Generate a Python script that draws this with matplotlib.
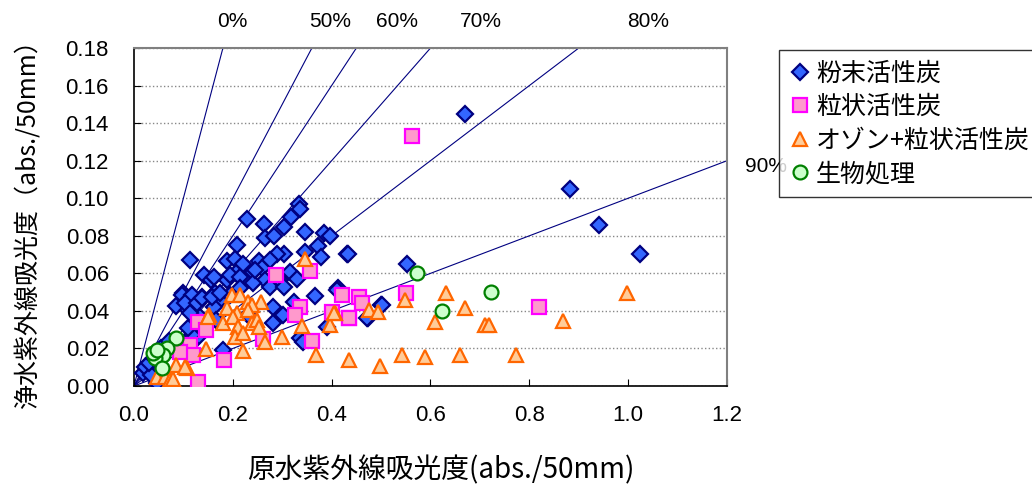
import numpy as np
import matplotlib
matplotlib.use("Agg")
import matplotlib.pyplot as plt

plt.rcParams['font.family'] = ['Noto Sans CJK JP', 'DejaVu Sans']

# 粉末活性炭
pac_x = [0.670, 0.883, 0.940, 1.024, 0.432, 0.553, 0.499, 0.473, 0.413, 0.228, 0.263, 0.304,
         0.318, 0.333, 0.335, 0.346, 0.385, 0.265, 0.283, 0.209, 0.372, 0.378, 0.347, 0.304,
         0.289, 0.434, 0.113, 0.188, 0.204, 0.221, 0.252, 0.275, 0.259, 0.238, 0.142, 0.155,
         0.188, 0.206, 0.225, 0.316, 0.329, 0.265, 0.296, 0.241, 0.275, 0.304, 0.100, 0.117,
         0.137, 0.164, 0.174, 0.194, 0.086, 0.110, 0.134, 0.161, 0.167, 0.366, 0.410, 0.282,
         0.302, 0.282, 0.231, 0.336, 0.342, 0.390, 0.471, 0.501, 0.120, 0.127, 0.181, 0.113,
         0.026, 0.046, 0.018, 0.161, 0.194, 0.215, 0.097, 0.117, 0.103, 0.127, 0.137, 0.157,
         0.174, 0.113, 0.117, 0.110, 0.022, 0.035, 0.397, 0.245, 0.215, 0.323, 0.030, 0.040,
         0.055, 0.070]
pac_y = [0.1448, 0.1049, 0.0857, 0.0701, 0.0701, 0.0651, 0.0431, 0.0360, 0.0522, 0.0888, 0.0863, 0.0848,
         0.0898, 0.0969, 0.0941, 0.0818, 0.0813, 0.0786, 0.0799, 0.0751, 0.0746, 0.0689, 0.0715, 0.0703,
         0.0703, 0.0703, 0.0671, 0.0666, 0.0674, 0.0650, 0.0664, 0.0671, 0.0626, 0.0600, 0.0591, 0.0564,
         0.0564, 0.0600, 0.0564, 0.0608, 0.0568, 0.0564, 0.0564, 0.0547, 0.0529, 0.0529, 0.0494, 0.0476,
         0.0473, 0.0494, 0.0458, 0.0485, 0.0426, 0.0405, 0.0369, 0.0422, 0.0351, 0.0479, 0.0511, 0.0422,
         0.0378, 0.0334, 0.0378, 0.0254, 0.0236, 0.0316, 0.0360, 0.0431, 0.0280, 0.0254, 0.0192, 0.0227,
         0.0103, 0.0014, 0.0069, 0.0582, 0.0590, 0.0580, 0.0485, 0.0485, 0.0440, 0.0440, 0.0467, 0.0476,
         0.0494, 0.0387, 0.0272, 0.0307, 0.0103, 0.0060, 0.0800, 0.0620, 0.0520, 0.0450, 0.0120, 0.0150,
         0.0200, 0.0240]

# 粒状活性炭
gac_x = [0.562, 0.820, 0.551, 0.436, 0.420, 0.456, 0.461, 0.287, 0.356, 0.335, 0.326, 0.401,
         0.435, 0.130, 0.146, 0.262, 0.360, 0.113, 0.120, 0.183, 0.130, 0.093]
gac_y = [0.1331, 0.0419, 0.0494, 0.0360, 0.0485, 0.0476, 0.0440, 0.0591, 0.0614, 0.0422, 0.0378, 0.0396,
         0.0360, 0.0342, 0.0298, 0.0248, 0.0240, 0.0218, 0.0165, 0.0138, 0.0023, 0.0180]

# オゾン+粒状活性炭
ozone_x = [0.631, 0.998, 0.670, 0.610, 0.711, 0.719, 0.869, 0.548, 0.436, 0.498, 0.542, 0.588,
           0.660, 0.773, 0.475, 0.493, 0.407, 0.347, 0.198, 0.215, 0.258, 0.231, 0.238, 0.188,
           0.208, 0.231, 0.152, 0.181, 0.201, 0.211, 0.238, 0.248, 0.252, 0.204, 0.221, 0.265,
           0.299, 0.339, 0.397, 0.405, 0.221, 0.146, 0.368, 0.086, 0.107, 0.059, 0.046, 0.063,
           0.073, 0.080, 0.150, 0.103]
ozone_y = [0.0494, 0.0494, 0.0414, 0.0342, 0.0325, 0.0325, 0.0348, 0.0458, 0.0138, 0.0106, 0.0165, 0.0156,
           0.0165, 0.0165, 0.0405, 0.0396, 0.0387, 0.0674, 0.0485, 0.0485, 0.0449, 0.0449, 0.0431, 0.0414,
           0.0387, 0.0405, 0.0378, 0.0334, 0.0369, 0.0316, 0.0334, 0.0351, 0.0316, 0.0263, 0.0280, 0.0236,
           0.0263, 0.0320, 0.0325, 0.0387, 0.0188, 0.0195, 0.0165, 0.0112, 0.0094, 0.0103, 0.0050, 0.0050,
           0.0030, 0.0040, 0.0369, 0.0103]

# 生物処理
bio_x = [0.572, 0.623, 0.723, 0.086, 0.066, 0.059, 0.043, 0.056, 0.039, 0.046]
bio_y = [0.0602, 0.0401, 0.0501, 0.0254, 0.0200, 0.0165, 0.0147, 0.0094, 0.0174, 0.0192]

# 除去率の線
removal_rates = [0, 50, 60, 70, 80, 90]
label_x = [0.198, 0.397, 0.532, 0.702, 1.040, 1.278]
label_y = [0.194, 0.194, 0.194, 0.194, 0.194, 0.117]

num_font = ['Liberation Sans', 'DejaVu Sans']

fig = plt.figure(figsize=(10.32, 4.90), dpi=100)
ax = fig.add_axes([0.1298, 0.2122, 0.5747, 0.6898])

xs = np.array([0, 1.2])
for r in removal_rates:
    ax.plot(xs, (1 - r / 100) * xs, color='#000080', lw=0.8, zorder=1)

ax.plot(pac_x, pac_y, 'D', ms=8.5, mfc='#3366FF', mec='#000080', mew=1.6, ls='none',
        label='粉末活性炭', zorder=3)
ax.plot(gac_x, gac_y, 's', ms=9.5, mfc='#FF99CC', mec='#FF00FF', mew=1.6, ls='none',
        label='粒状活性炭', zorder=4)
ax.plot(ozone_x, ozone_y, '^', ms=10.5, mfc='#FFCC99', mec='#FF6600', mew=1.6, ls='none',
        label='オゾン+粒状活性炭', zorder=5)
ax.plot(bio_x, bio_y, 'o', ms=10, mfc='#CCFFCC', mec='#008000', mew=1.6, ls='none',
        label='生物処理', zorder=6)

for r, lx, ly in zip(removal_rates, label_x, label_y):
    ax.text(lx, ly, f'{r}%', ha='center', va='center', fontsize=15,
            family=num_font, clip_on=False)

ax.set_xlim(0, 1.2)
ax.set_ylim(0, 0.18)
ax.set_xticks(np.arange(0, 1.21, 0.2))
ax.set_yticks(np.arange(0, 0.181, 0.02))
ax.set_xticklabels([f'{v:.1f}' for v in np.arange(0, 1.21, 0.2)], family=num_font, fontsize=16)
ax.set_yticklabels([f'{v:.2f}' for v in np.arange(0, 0.181, 0.02)], family=num_font, fontsize=16)
ax.tick_params(axis='x', direction='in', length=5, pad=14, color='black')
ax.tick_params(axis='y', direction='in', length=5, pad=18, color='black')
ax.yaxis.grid(True, color='#888888', ls=':', lw=1.0)
ax.set_axisbelow(True)

for s in ['left', 'bottom']:
    ax.spines[s].set_color('black')
    ax.spines[s].set_linewidth(1.2)
for s in ['top', 'right']:
    ax.spines[s].set_color('#808080')
    ax.spines[s].set_linewidth(1.5)

ax.set_xlabel('原水紫外線吸光度(abs./50mm)', fontsize=20, va='center')
ax.xaxis.set_label_coords(0.518, -0.249)
ax.set_ylabel('浄水紫外線吸光度（abs./50mm）', fontsize=18, labelpad=18)

leg = ax.legend(loc='upper left', bbox_to_anchor=(0.7545, 0.897), bbox_transform=fig.transFigure,
                fontsize=18, frameon=True, fancybox=False, edgecolor='black',
                handletextpad=0.2, handlelength=0.9, borderpad=0.4, labelspacing=0.3,
                borderaxespad=0)
leg.get_frame().set_linewidth(1.0)

fig.savefig('out.png', dpi=100)
